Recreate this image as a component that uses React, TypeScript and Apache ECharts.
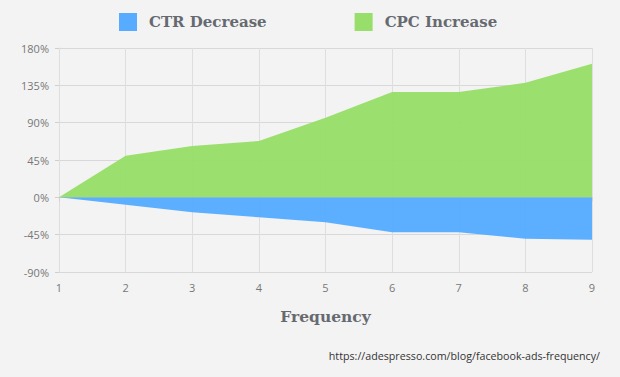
import React, { useEffect, useRef } from "react";
import * as echarts from "echarts";

const frequency = ["1", "2", "3", "4", "5", "6", "7", "8", "9"];
const ctrDecrease = [0, -9, -18, -24, -30, -42, -42, -50, -51];
const cpcIncrease = [0, 50, 62, 68, 96, 127, 127, 138, 161];
const yTicks = [-90, -45, 0, 45, 90, 135, 180];

export default function App() {
  const ref = useRef<HTMLDivElement>(null);
  useEffect(() => {
    const chart = echarts.init(ref.current!, null, { renderer: "svg" });
    chart.setOption({
      animation: false,
      backgroundColor: "#f3f3f3",
      legend: {
        top: 13,
        left: 119,
        padding: 0,
        itemGap: 88,
        itemWidth: 18,
        itemHeight: 18,
        icon: "rect",
        textStyle: {
          fontFamily: "DejaVu Serif",
          fontWeight: "bold",
          fontSize: 15,
          color: "#666a70",
          padding: [0, 0, 0, 7],
        },
        data: ["CTR Decrease", "CPC Increase"],
      },
      grid: { left: 59, right: 28, top: 48, bottom: 105 },
      xAxis: {
        type: "category",
        data: frequency,
        boundaryGap: false,
        name: "Frequency",
        nameLocation: "middle",
        nameGap: 36,
        nameTextStyle: {
          fontFamily: "DejaVu Serif",
          fontWeight: "bold",
          fontSize: 15.5,
          color: "#666a70",
        },
        axisLine: { lineStyle: { color: "#cfcfcf" } },
        axisTick: { show: true, length: 4, lineStyle: { color: "#cfcfcf" } },
        axisLabel: { color: "#777", fontSize: 11, fontFamily: "Open Sans", margin: 10 },
        splitLine: { show: true, lineStyle: { color: "#dedede" } },
      },
      yAxis: {
        type: "value",
        min: yTicks[0],
        max: yTicks[yTicks.length - 1],
        interval: 45,
        axisLine: { show: true, lineStyle: { color: "#dedede" } },
        axisTick: { show: true, length: 4, lineStyle: { color: "#cfcfcf" } },
        axisLabel: {
          color: "#777",
          fontSize: 11,
          fontFamily: "Open Sans",
          margin: 10,
          formatter: (v: number) => `${v}%`,
        },
        splitLine: { show: true, lineStyle: { color: "#d8d8d8" } },
      },
      series: [
        {
          name: "CTR Decrease",
          type: "line",
          data: ctrDecrease,
          symbol: "none",
          lineStyle: { width: 0 },
          itemStyle: { color: "#57acff" },
          areaStyle: { color: "#57acff", opacity: 0.97, origin: 0 },
        },
        {
          name: "CPC Increase",
          type: "line",
          data: cpcIncrease,
          symbol: "none",
          lineStyle: { width: 0 },
          itemStyle: { color: "#98de6a" },
          areaStyle: { color: "#98de6a", opacity: 0.97, origin: 0 },
        },
      ],
      graphic: [
        {
          type: "text",
          right: 20,
          top: 350,
          style: {
            text: "https://adespresso.com/blog/facebook-ads-frequency/",
            fontFamily: "Open Sans",
            fontSize: 10.7,
            fill: "#333",
          },
        },
      ],
    });
    return () => chart.dispose();
  }, []);
  return <div ref={ref} style={{ width: 620, height: 377, position: "fixed", left: 0, top: 0 }} />;
}
